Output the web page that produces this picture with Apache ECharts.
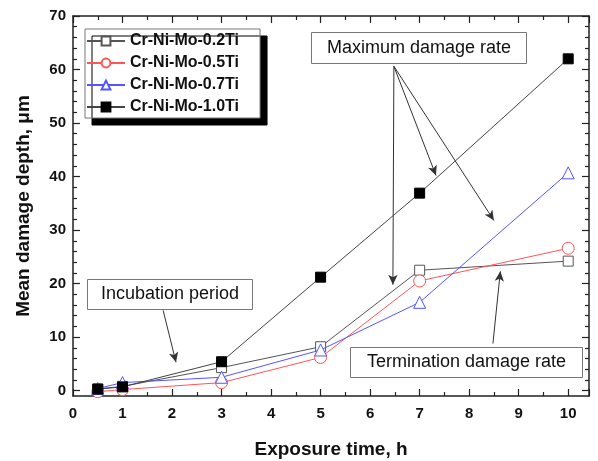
<!DOCTYPE html>
<html lang="en">
<head>
<meta charset="UTF-8">
<title>Mean damage depth</title>
<style>
  html, body { margin: 0; padding: 0; background: #fff; }
  #main { width: 598px; height: 461px; }
</style>
<script src="https://cdn.jsdelivr.net/npm/echarts@6/dist/echarts.min.js"></script>
</head>
<body>
<div id="main"></div>
<script>
// exposure time, h
var times = [0.5, 1, 3, 5, 7, 10];
// mean damage depth, um
var ti02 = [0.3, 0.8, 4.3, 8.2, 22.5, 24.2];
var ti05 = [-0.2, 0.2, 1.5, 6.2, 20.5, 26.6];
var ti07 = [0.4, 1.5, 2.5, 7.6, 16.5, 40.7];
var ti10 = [0.3, 0.7, 5.4, 21.2, 36.9, 62.0];
var names = ['Cr-Ni-Mo-0.2Ti', 'Cr-Ni-Mo-0.5Ti', 'Cr-Ni-Mo-0.7Ti', 'Cr-Ni-Mo-1.0Ti'];

var yMajor = [0, 10, 20, 30, 40, 50, 60, 70];
var yMinor = [2, 4, 6, 8, 12, 14, 16, 18, 22, 24, 26, 28, 32, 34, 36, 38, 42, 44, 46, 48, 52, 54, 56, 58, 62, 64, 66, 68];

// annotation arrows in data units: [from, to]
var arrows = [
  [[6.48, 60.6], [6.46, 19.8]],
  [[6.48, 60.6], [7.33, 40.2]],
  [[6.48, 60.6], [8.50, 31.8]],
  [[1.82, 15.0], [2.08, 5.3]],
  [[8.48, 8.8], [8.63, 22.3]]
];

var font = 'Arial, "Liberation Sans", sans-serif';

function pairs(ys) {
  return times.map(function (t, i) { return [t, ys[i]]; });
}

var chart = echarts.init(document.getElementById('main'));

function yAx(pos, major, labels) {
  return {
    type: 'value', position: pos, min: -1, max: 70,
    axisLine: { show: major, lineStyle: { color: '#222', width: 1.5 } },
    splitLine: { show: false },
    axisTick: { show: true, inside: true, length: major ? 7 : 4,
      customValues: major ? yMajor : yMinor,
      lineStyle: { color: '#222', width: 1.2 } },
    axisLabel: { show: labels, customValues: yMajor, margin: 7,
      fontFamily: font, fontWeight: 'bold', fontSize: 15, color: '#111' },
    name: labels ? 'Mean damage depth, \u03bcm' : '',
    nameLocation: 'middle', nameGap: 40,
    nameTextStyle: { fontFamily: font, fontWeight: 'bold', fontSize: 19, color: '#111' }
  };
}

function xAx(pos, labels) {
  return {
    type: 'value', position: pos, min: 0, max: 10.42, interval: 1,
    axisLine: { show: true, onZero: false, lineStyle: { color: '#222', width: 1.5 } },
    splitLine: { show: false },
    axisTick: { show: true, inside: true, length: 7, lineStyle: { color: '#222', width: 1.2 } },
    minorTick: { show: true, splitNumber: 2, length: 4, lineStyle: { color: '#222', width: 1.2 } },
    axisLabel: { show: labels, margin: 10, showMaxLabel: false,
      fontFamily: font, fontWeight: 'bold', fontSize: 15, color: '#111',
      formatter: function (v) { return Math.abs(v - Math.round(v)) < 1e-6 ? String(Math.round(v)) : ''; } },
    name: labels ? 'Exposure time, h' : '',
    nameLocation: 'middle', nameGap: 44,
    nameTextStyle: { fontFamily: font, fontWeight: 'bold', fontSize: 19, color: '#111' }
  };
}

var styles = [
  { symbol: 'rect', size: 10, fill: '#fff', stroke: '#555', line: '#555' },
  { symbol: 'circle', size: 12, fill: '#fff', stroke: '#ff5555', line: '#ff5555' },
  { symbol: 'triangle', size: 12, fill: '#fff', stroke: '#5555ff', line: '#5555ff' },
  { symbol: 'rect', size: 10, fill: '#000', stroke: '#000', line: '#444' }
];
var dataSets = [ti02, ti05, ti07, ti10];

var series = dataSets.map(function (ys, i) {
  var s = styles[i];
  return {
    name: names[i], type: 'line', data: pairs(ys),
    symbol: s.symbol, symbolSize: s.size, showAllSymbol: true,
    itemStyle: { color: s.fill, borderColor: s.stroke, borderWidth: 1 },
    lineStyle: { color: s.line, width: 1 },
    z: 3 + i
  };
});

series.push({
  type: 'line', data: [], silent: true,
  markLine: {
    silent: true, animation: false,
    symbol: ['none', 'arrow'], symbolSize: [7, 10],
    label: { show: false },
    lineStyle: { color: '#333', width: 1, type: 'solid' },
    data: arrows.map(function (a) { return [{ coord: a[0] }, { coord: a[1] }]; })
  }
});

function textBox(left, top, w, h, text) {
  return {
    type: 'group', left: left, top: top, z: 20,
    children: [
      { type: 'rect', shape: { x: 0, y: 0, width: w, height: h },
        style: { fill: '#fff', stroke: '#777', lineWidth: 1 } },
      { type: 'text', x: w / 2, y: h / 2,
        style: { text: text, fill: '#111', font: '18px ' + font, align: 'center', verticalAlign: 'middle' } }
    ]
  };
}

chart.setOption({
  animation: false,
  backgroundColor: '#fff',
  grid: { left: 73, right: 9, top: 16, bottom: 65, containLabel: false, outerBoundsMode: 'none' },
  xAxis: [xAx('bottom', true), xAx('top', false)],
  yAxis: [yAx('left', true, true), yAx('left', false, false), yAx('right', true, false), yAx('right', false, false)],
  legend: {
    orient: 'vertical', left: 85, top: 29,
    padding: [4, 21, 3, 1], itemGap: 6, itemWidth: 38, itemHeight: 11,
    backgroundColor: '#fff', borderColor: '#777', borderWidth: 1,
    shadowColor: '#000', shadowBlur: 0, shadowOffsetX: 7, shadowOffsetY: 7,
    textStyle: { fontFamily: font, fontWeight: 'bold', fontSize: 16, color: '#111' },
    data: names
  },
  graphic: [
    textBox(311, 32, 215, 31, 'Maximum damage rate'),
    textBox(87, 279, 165, 30, 'Incubation period'),
    textBox(350, 347, 232, 30, 'Termination damage rate')
  ],
  series: series
});
</script>
</body>
</html>
